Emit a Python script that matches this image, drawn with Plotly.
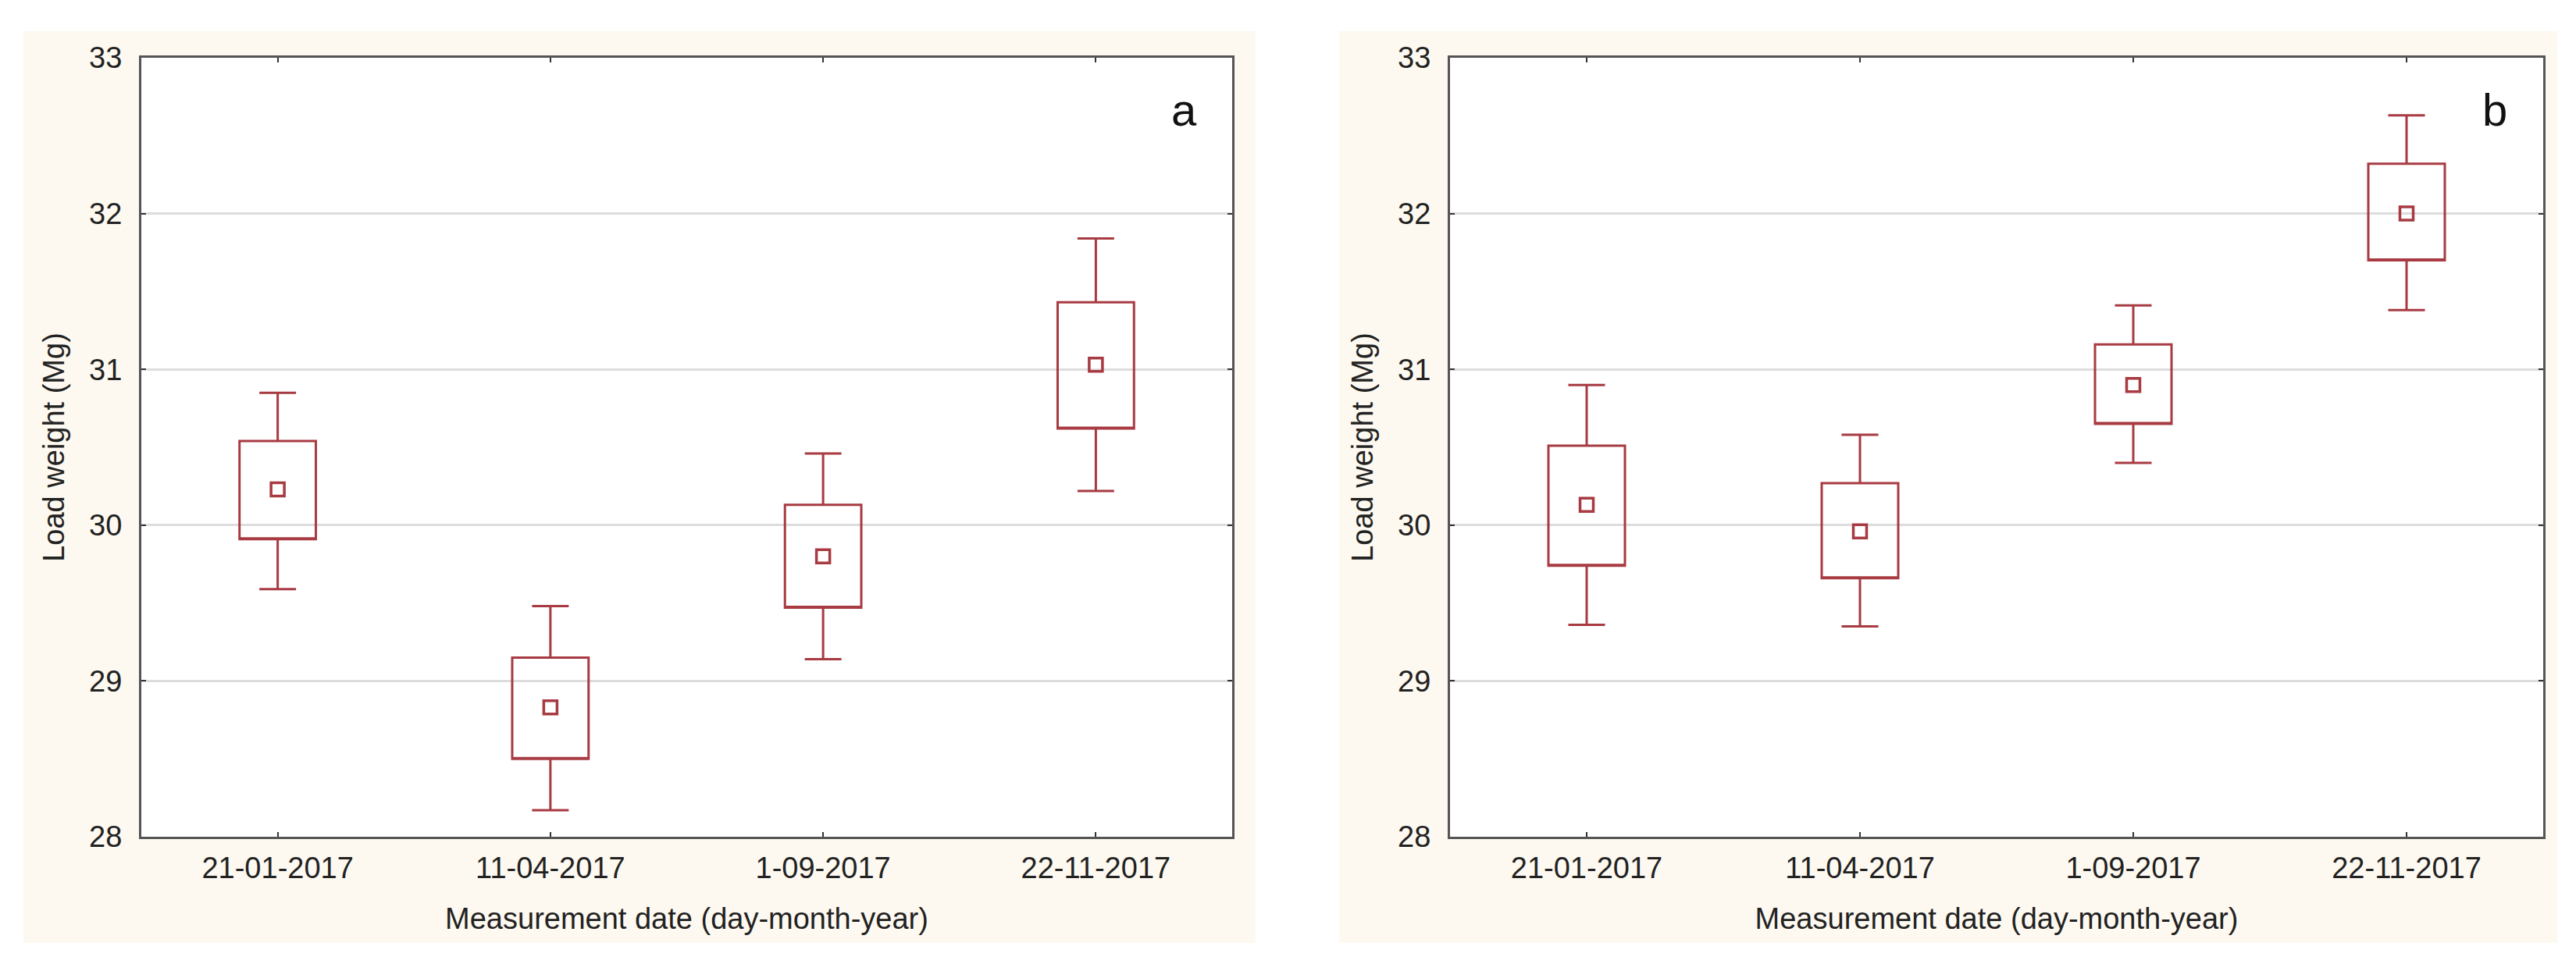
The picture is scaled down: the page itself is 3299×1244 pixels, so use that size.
import plotly.graph_objects as go
from plotly.subplots import make_subplots

# measurement dates (categories)
dates = ['21-01-2017', '11-04-2017', '1-09-2017', '22-11-2017']

# panel a: mean, box (mean +/- SE) and whiskers
a_mean = [30.23, 28.83, 29.80, 31.03]
a_box_lo = [29.91, 28.50, 29.47, 30.62]
a_box_hi = [30.54, 29.15, 30.13, 31.43]
a_whisk_lo = [29.59, 28.17, 29.14, 30.22]
a_whisk_hi = [30.85, 29.48, 30.46, 31.84]

# panel b
b_mean = [30.13, 29.96, 30.90, 32.00]
b_box_lo = [29.74, 29.66, 30.65, 31.70]
b_box_hi = [30.51, 30.27, 31.16, 32.32]
b_whisk_lo = [29.36, 29.35, 30.40, 31.38]
b_whisk_hi = [30.90, 30.58, 31.41, 32.63]

panel_labels = ['a', 'b']

W, H = 3299, 1244
red = '#a83a42'
font = 'Liberation Sans, Arial, sans-serif'
txt = '#222222'

fig = make_subplots(rows=1, cols=2)

panels = [
    (a_mean, a_box_lo, a_box_hi, a_whisk_lo, a_whisk_hi),
    (b_mean, b_box_lo, b_box_hi, b_whisk_lo, b_whisk_hi),
]
for i, (mean, lo, hi, wlo, whi) in enumerate(panels, start=1):
    fig.add_trace(go.Box(
        x=dates, q1=lo, median=lo, q3=hi,
        lowerfence=wlo, upperfence=whi,
        boxpoints=False, whiskerwidth=0.48,
        fillcolor='rgba(0,0,0,0)', line=dict(color=red, width=3),
        hoverinfo='skip', showlegend=False,
    ), row=1, col=i)
    fig.add_trace(go.Scatter(
        x=dates, y=mean, mode='markers',
        marker=dict(symbol='square-open', size=17, color=red,
                    line=dict(color=red, width=3.5)),
        hoverinfo='skip', showlegend=False,
    ), row=1, col=i)

# plot frames and cream panel backgrounds, in pixels
frames = [(173, 1570), (1849, 3249)]
top, bottom = 66, 1064
cream = [(22, 1600), (1707, 3267)]
cream_top, cream_bottom = 32, 1200


def px(v):
    return v / W


def py(v):
    return 1 - v / H


for i in range(2):
    xa = 'xaxis' if i == 0 else 'xaxis2'
    ya = 'yaxis' if i == 0 else 'yaxis2'
    fig.layout[xa].update(
        domain=(px(frames[i][0]), px(frames[i][1])),
        type='category', range=[-0.5, 3.5],
        showline=True, mirror='ticks', linecolor='#555555', linewidth=3,
        ticks='inside', ticklen=6, tickwidth=2, tickcolor='#333333',
        showgrid=False, zeroline=False, automargin=False,
        tickfont=dict(family=font, size=38, color=txt),
        ticklabelstandoff=4,
        title=dict(text='Measurement date (day-month-year)', standoff=32,
                   font=dict(family=font, size=38, color=txt)),
    )
    fig.layout[ya].update(
        domain=(py(bottom), py(top)), range=[28, 33], dtick=1,
        showline=True, mirror='ticks', linecolor='#555555', linewidth=3,
        ticks='inside', ticklen=6, tickwidth=2, tickcolor='#333333',
        showgrid=True, gridcolor='#dddddd', gridwidth=3,
        zeroline=False, automargin=False,
        tickfont=dict(family=font, size=38, color=txt),
        ticklabelstandoff=14,
        title=dict(text='Load weight (Mg)', standoff=20,
                   font=dict(family=font, size=38, color=txt)),
    )
    # cream surround: four strips so the plot area itself stays white
    cx0, cx1 = cream[i]
    fx0, fx1 = frames[i]
    strips = [
        (cx0, cx1, cream_top, top),
        (cx0, cx1, bottom, cream_bottom),
        (cx0, fx0, top, bottom),
        (fx1, cx1, top, bottom),
    ]
    for x0, x1, y0, y1 in strips:
        fig.add_shape(type='rect', xref='paper', yref='paper', layer='below',
                      x0=px(x0), x1=px(x1), y0=py(y1), y1=py(y0),
                      fillcolor='#fdf9f0', line=dict(width=0))
    fig.add_annotation(
        text=panel_labels[i], xref=('x' if i == 0 else 'x2') + ' domain',
        yref=('y' if i == 0 else 'y2') + ' domain', x=0.956, y=0.933,
        xanchor='center', yanchor='middle', showarrow=False,
        font=dict(family=font, size=58, color='#111111'),
    )

fig.update_layout(
    width=W, height=H,
    margin=dict(l=0, r=0, t=0, b=0),
    paper_bgcolor='white', plot_bgcolor='white',
    boxgap=0.6,
)

fig.write_html("out.html")
